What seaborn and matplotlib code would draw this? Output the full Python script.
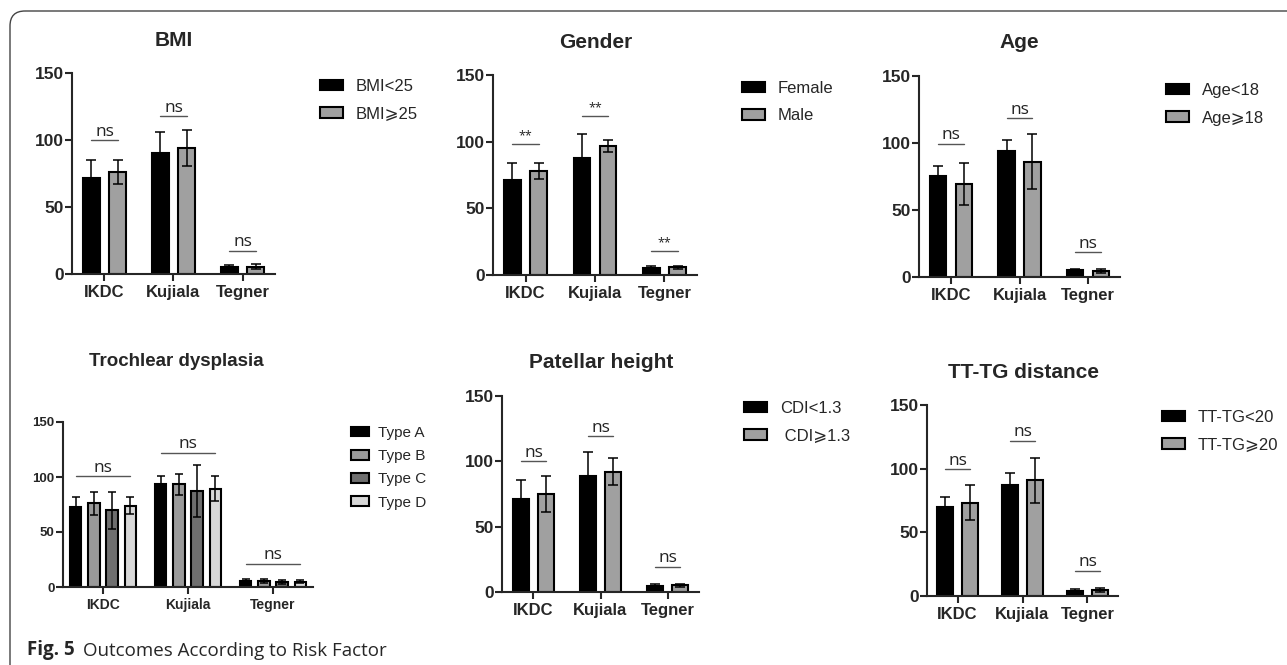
import pandas as pd
import seaborn as sns
import matplotlib.pyplot as plt
from matplotlib.patches import FancyBboxPatch
from matplotlib.text import Annotation
from matplotlib.transforms import Affine2D

# Skor hasil per kelompok faktor risiko
scores = ['IKDC', 'Kujiala', 'Tegner']

bmi_groups = ['BMI<25', 'BMI\u2a7e25']
bmi_mean = [[72, 90, 5], [76, 94, 5.5]]
bmi_err = [[13, 16, 2], [9, 13.5, 2]]
bmi_sig = ['ns', 'ns', 'ns']
bmi_sig_y = [99.7, 117.6, 17.4]

gender_groups = ['Female', 'Male']
gender_mean = [[71, 88, 5], [78, 96.5, 5.8]]
gender_err = [[13, 18, 1.5], [6, 4.5, 1.3]]
gender_sig = ['**', '**', '**']
gender_sig_y = [98.3, 119, 17.8]

age_groups = ['Age<18', 'Age\u2a7e18']
age_mean = [[75.5, 94, 5], [69.5, 86, 4.5]]
age_err = [[7, 8, 1.2], [15.5, 20.5, 1.7]]
age_sig = ['ns', 'ns', 'ns']
age_sig_y = [99.3, 118.4, 18.4]

troch_groups = ['Type A', 'Type B', 'Type C', 'Type D']
troch_mean = [[72.7, 93.6, 5.2], [76, 93.3, 5.3], [69.7, 87.2, 4.8], [74, 89.3, 5]]
troch_err = [[9.5, 7.5, 1.8], [10.5, 9.5, 2], [17, 23.5, 2], [8, 11.5, 1.8]]
troch_sig = ['ns', 'ns', 'ns']
troch_sig_y = [100.5, 122, 21]

pat_groups = ['CDI<1.3', ' CDI\u2a7e1.3']
pat_mean = [[71.3, 89, 4.8], [75, 92.2, 5.1]]
pat_err = [[14.3, 18.4, 1.6], [14, 10.2, 1.4]]
pat_sig = ['ns', 'ns', 'ns']
pat_sig_y = [100, 119.2, 19.4]

tt_groups = ['TT-TG<20', 'TT-TG\u2a7e20']
tt_mean = [[70, 87.3, 4.2], [73.2, 91, 4.7]]
tt_err = [[8, 9.4, 1.5], [13.7, 17.7, 1.6]]
tt_sig = ['ns', 'ns', 'ns']
tt_sig_y = [99.6, 121.8, 19.6]

W, H = 1287, 665
sns.set_style('ticks')
plt.rcParams['font.family'] = ['Liberation Sans', 'DejaVu Sans']

fig = plt.figure(figsize=(W / 100, H / 100), dpi=100)
pix = Affine2D().scale(1 / W, -1 / H).translate(0, 1) + fig.transFigure


def rect(x0, y0, x1, y1):
    return [x0 / W, 1 - y1 / H, (x1 - x0) / W, (y1 - y0) / H]


def panel(box, title, title_xy, groups, means, errs, sig, sig_y, colors,
          leg_xy, small=False):
    ax = fig.add_axes(rect(*box))
    rows = []
    for g, m in zip(groups, means):
        for s, v in zip(scores, m):
            rows.append({'score': s, 'group': g, 'value': v})
    df = pd.DataFrame(rows)
    n = len(groups)
    sns.barplot(data=df, x='score', y='value', hue='group', palette=colors,
                edgecolor='black', linewidth=1.5, errorbar=None,
                width=0.76 if n == 2 else 0.86, gap=0.37, ax=ax)
    centers = []
    for cont, err in zip(ax.containers, errs):
        xs = [b.get_x() + b.get_width() / 2 for b in cont]
        ys = [b.get_height() for b in cont]
        centers.append(xs)
        ax.errorbar(xs, ys, yerr=err, fmt='none', ecolor='black',
                    elinewidth=1.1, capsize=3.5 if not small else 3,
                    capthick=1.1, zorder=5)
    for i in range(len(scores)):
        x0, x1 = centers[0][i], centers[-1][i]
        ax.plot([x0, x1], [sig_y[i], sig_y[i]], color='#555555', lw=1,
                clip_on=False)
        stars = sig[i].startswith('*')
        ax.text((x0 + x1) / 2, sig_y[i] + (0.5 if not stars else 1.5), sig[i],
                ha='center', va='bottom',
                fontsize=(9 if stars else 12.5),
                family=['Open Sans', 'DejaVu Sans'], color='#222222')
    ax.set_ylim(0, 150)
    ax.set_xlim(-0.47, 2.47)
    ax.set_yticks([0, 50, 100, 150])
    ax.set_xlabel('')
    ax.set_ylabel('')
    sns.despine(ax=ax)
    for sp in ['left', 'bottom']:
        ax.spines[sp].set_linewidth(1.5)
    fs_y = 12.5 if not small else 9.5
    fs_x = 12 if not small else 10
    ax.tick_params(axis='both', width=1.5, length=5, direction='out')
    ax.tick_params(axis='y', labelsize=fs_y, pad=1)
    ax.tick_params(axis='x', labelsize=fs_x, pad=3)
    for lab in ax.get_xticklabels() + ax.get_yticklabels():
        lab.set_fontweight('bold')
    ax.legend(loc='upper left', bbox_to_anchor=leg_xy, bbox_transform=pix,
              frameon=False, fontsize=12 if not small else 11,
              handlelength=1.35 if not small else 1.2,
              handleheight=0.6, handletextpad=0.8 if not small else 0.6,
              labelspacing=0.75 if not small else 0.6,
              borderpad=0, borderaxespad=0)
    fig.text(title_xy[0], title_xy[1], title, transform=pix, ha='center',
             va='center', fontsize=15 if not small else 13.5,
             fontweight='bold')
    return ax


gray2 = ['#000000', '#a0a0a0']
panel((72, 73, 275, 274), 'BMI', (174, 40), bmi_groups, bmi_mean, bmi_err,
      bmi_sig, bmi_sig_y, gray2, (320, 79))
panel((493, 75, 697, 275), 'Gender', (596, 42), gender_groups, gender_mean,
      gender_err, gender_sig, gender_sig_y, gray2, (742, 81))
panel((919, 76, 1120, 277), 'Age', (1019, 43), age_groups, age_mean, age_err,
      age_sig, age_sig_y, gray2, (1166, 83))
panel((63, 422, 313, 587), 'Trochlear dysplasia', (176, 361), troch_groups,
      troch_mean, troch_err, troch_sig, troch_sig_y,
      ['#000000', '#9a9a9a', '#6e6e6e', '#d8d8d8'], (351, 426), small=True)
panel((502, 396, 699, 592), 'Patellar height', (601, 363), pat_groups,
      pat_mean, pat_err, pat_sig, pat_sig_y, gray2, (744, 401))
panel((927, 405, 1118, 596), 'TT-TG distance', (1023, 373), tt_groups,
      tt_mean, tt_err, tt_sig, tt_sig_y, gray2, (1162, 410))

# bingkai dan keterangan gambar
frame = FancyBboxPatch((10, 11), 1400, 800,
                       boxstyle='round,pad=0,rounding_size=15',
                       transform=pix, fill=False, edgecolor='#444444', lw=1)
fig.patches.append(frame)
cap = fig.text(27, 655, 'Fig. 5', transform=pix, ha='left', va='baseline',
               fontsize=13.5, fontweight='bold',
               family=['Open Sans', 'DejaVu Sans'])
fig.add_artist(Annotation('Outcomes According to Risk Factor', xy=(1, 0),
                          xycoords=cap, xytext=(6, 0),
                          textcoords='offset points', va='bottom',
                          fontsize=13.5, family=['Open Sans', 'DejaVu Sans']))

plt.savefig('out.png', dpi=100)
